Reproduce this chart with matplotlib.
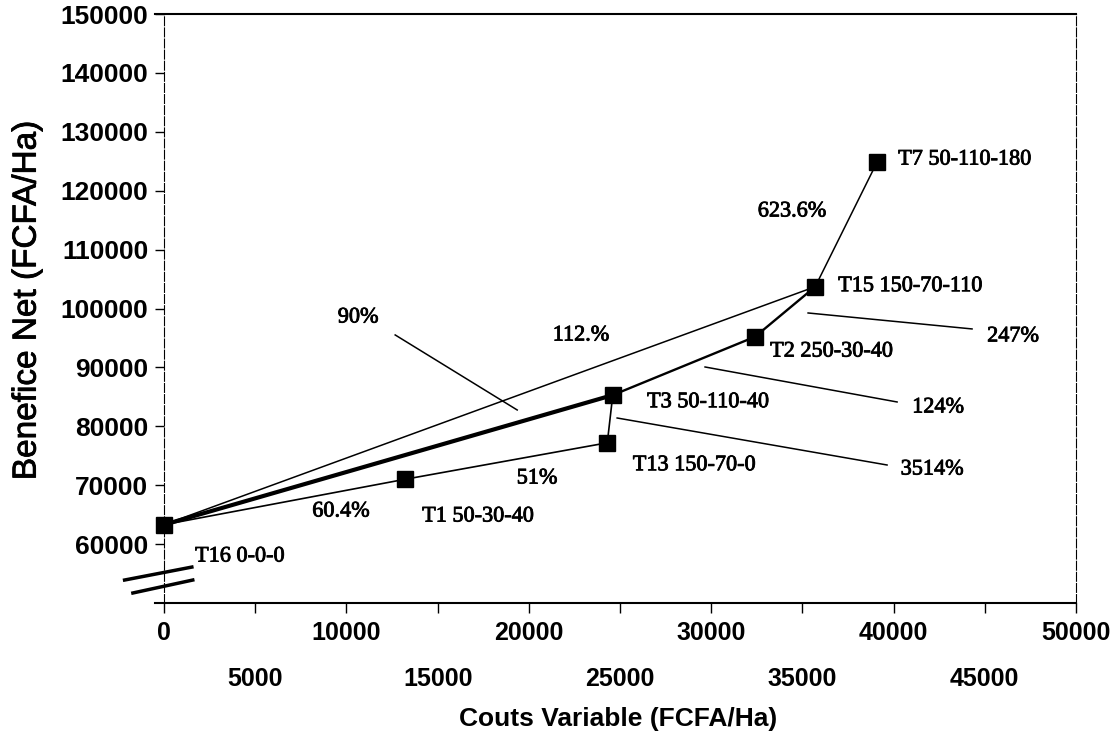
import numpy as np
import matplotlib
matplotlib.use("Agg")
import matplotlib.pyplot as plt
import matplotlib.patheffects as pe

# treatments (cost, net benefit)
names = ["T16 0-0-0", "T1 50-30-40", "T13 150-70-0", "T3 50-110-40",
         "T2 250-30-40", "T15 150-70-110", "T7 50-110-180"]
couts = [0, 13200, 24300, 24600, 32400, 35700, 39100]
benefice = [63300, 71000, 77200, 85300, 95200, 103700, 124900]

# which treatments are joined, and the rate-of-return labels
paths = [["T16 0-0-0", "T1 50-30-40", "T13 150-70-0", "T3 50-110-40"],
         ["T16 0-0-0", "T3 50-110-40"],
         ["T3 50-110-40", "T2 250-30-40", "T15 150-70-110"],
         ["T16 0-0-0", "T15 150-70-110"],
         ["T15 150-70-110", "T7 50-110-180"]]
rates = ["60.4%", "51%", "90%", "112.%", "124%", "3514%", "247%", "623.6%"]

x_major = [0, 10000, 20000, 30000, 40000, 50000]
x_minor = [5000, 15000, 25000, 35000, 45000]
y_ticks = [60000, 70000, 80000, 90000, 100000, 110000, 120000, 130000, 140000, 150000]

# layout only
path_widths = [1.2, 3.0, 1.7, 1.1, 1.1]
label_pos = {"T16 0-0-0": (1700, 57800), "T1 50-30-40": (14150, 64600),
             "T13 150-70-0": (25700, 73300), "T3 50-110-40": (26480, 84000),
             "T2 250-30-40": (33230, 92600), "T15 150-70-110": (36960, 103700),
             "T7 50-110-180": (40250, 125200)}
rate_pos = {"60.4%": (9700, 65450), "51%": (20450, 71060), "90%": (10640, 98390),
            "112.%": (22860, 95340), "124%": (42440, 83110), "3514%": (42110, 72580),
            "247%": (46550, 95170), "623.6%": (34430, 116390)}
leaders = {"90%": ((12670, 95510), (19360, 82770)),
           "247%": ((35310, 99240), (44300, 96530)),
           "124%": ((29660, 90070), (40190, 84130)),
           "3514%": ((24840, 81410), (39640, 73430))}

serif = "Liberation Serif"
sans = "Liberation Sans"
ink = [pe.withStroke(linewidth=0.6, foreground="black")]

fig = plt.figure(figsize=(11.2, 7.4), dpi=100)
ax = fig.add_axes([155 / 1120, 1 - 603 / 740, 921 / 1120, 589 / 740])

pts = dict(zip(names, zip(couts, benefice)))
for p, lw in zip(paths, path_widths):
    xs = [pts[n][0] for n in p]
    ys = [pts[n][1] for n in p]
    ax.plot(xs, ys, color="black", lw=lw, solid_capstyle="round", zorder=2)
ax.plot(couts, benefice, ls="none", marker="s", ms=12, color="black", zorder=3)

for n in names:
    ax.text(*label_pos[n], n, family=serif, fontsize=16, ha="left", va="center",
            path_effects=ink)
for r in rates:
    ax.text(*rate_pos[r], r, family=serif, fontsize=16, ha="center", va="center",
            path_effects=ink)
for r, (a, b) in leaders.items():
    ax.plot([a[0], b[0]], [a[1], b[1]], color="black", lw=1.1)

ax.set_xlim(-500, 50000)
ax.set_ylim(50000, 150000)
ax.spines["left"].set_position(("data", 0))
ax.spines["left"].set_linewidth(0.8)
ax.spines["left"].set_linestyle((0, (8, 2)))
ax.spines["right"].set_linewidth(0.8)
ax.spines["right"].set_linestyle((0, (8, 2)))
ax.spines["top"].set_linewidth(1.5)
ax.spines["bottom"].set_linewidth(1.5)

ax.set_yticks(y_ticks)
ax.set_yticklabels([str(v) for v in y_ticks])
ax.set_xticks(x_major)
ax.set_xticklabels([str(v) for v in x_major])
ax.set_xticks(x_minor, minor=True)
ax.set_xticklabels([str(v) for v in x_minor], minor=True)
ax.tick_params(axis="y", direction="out", length=6.5, width=1, pad=5)
ax.tick_params(axis="x", which="major", direction="out", length=7, width=1, pad=6)
ax.tick_params(axis="x", which="minor", direction="out", length=7, width=1, pad=39)
for lab in ax.get_xticklabels(which="both"):
    lab.set_family(sans)
    lab.set_fontweight("bold")
    lab.set_fontsize(18)
for lab in ax.get_yticklabels():
    lab.set_family(sans)
    lab.set_fontweight("bold")
    lab.set_fontsize(19)

ax.set_xlabel("Couts Variable (FCFA/Ha)", family=sans, fontweight="bold", fontsize=19)
ax.xaxis.set_label_coords(0.503, -0.176)
ax.set_ylabel("Benefice Net (FCFA/Ha)", family=sans, fontsize=24, path_effects=ink)
ax.yaxis.set_label_coords(-0.122, 0.514)

# axis break marks
for (x0, y0), (x1, y1) in [((-0.033, 0.039), (0.040, 0.061)),
                           ((-0.024, 0.017), (0.041, 0.039))]:
    ax.plot([x0, x1], [y0, y1], transform=ax.transAxes, color="black",
            lw=2.5, clip_on=False)

fig.savefig("out.png", dpi=100)
